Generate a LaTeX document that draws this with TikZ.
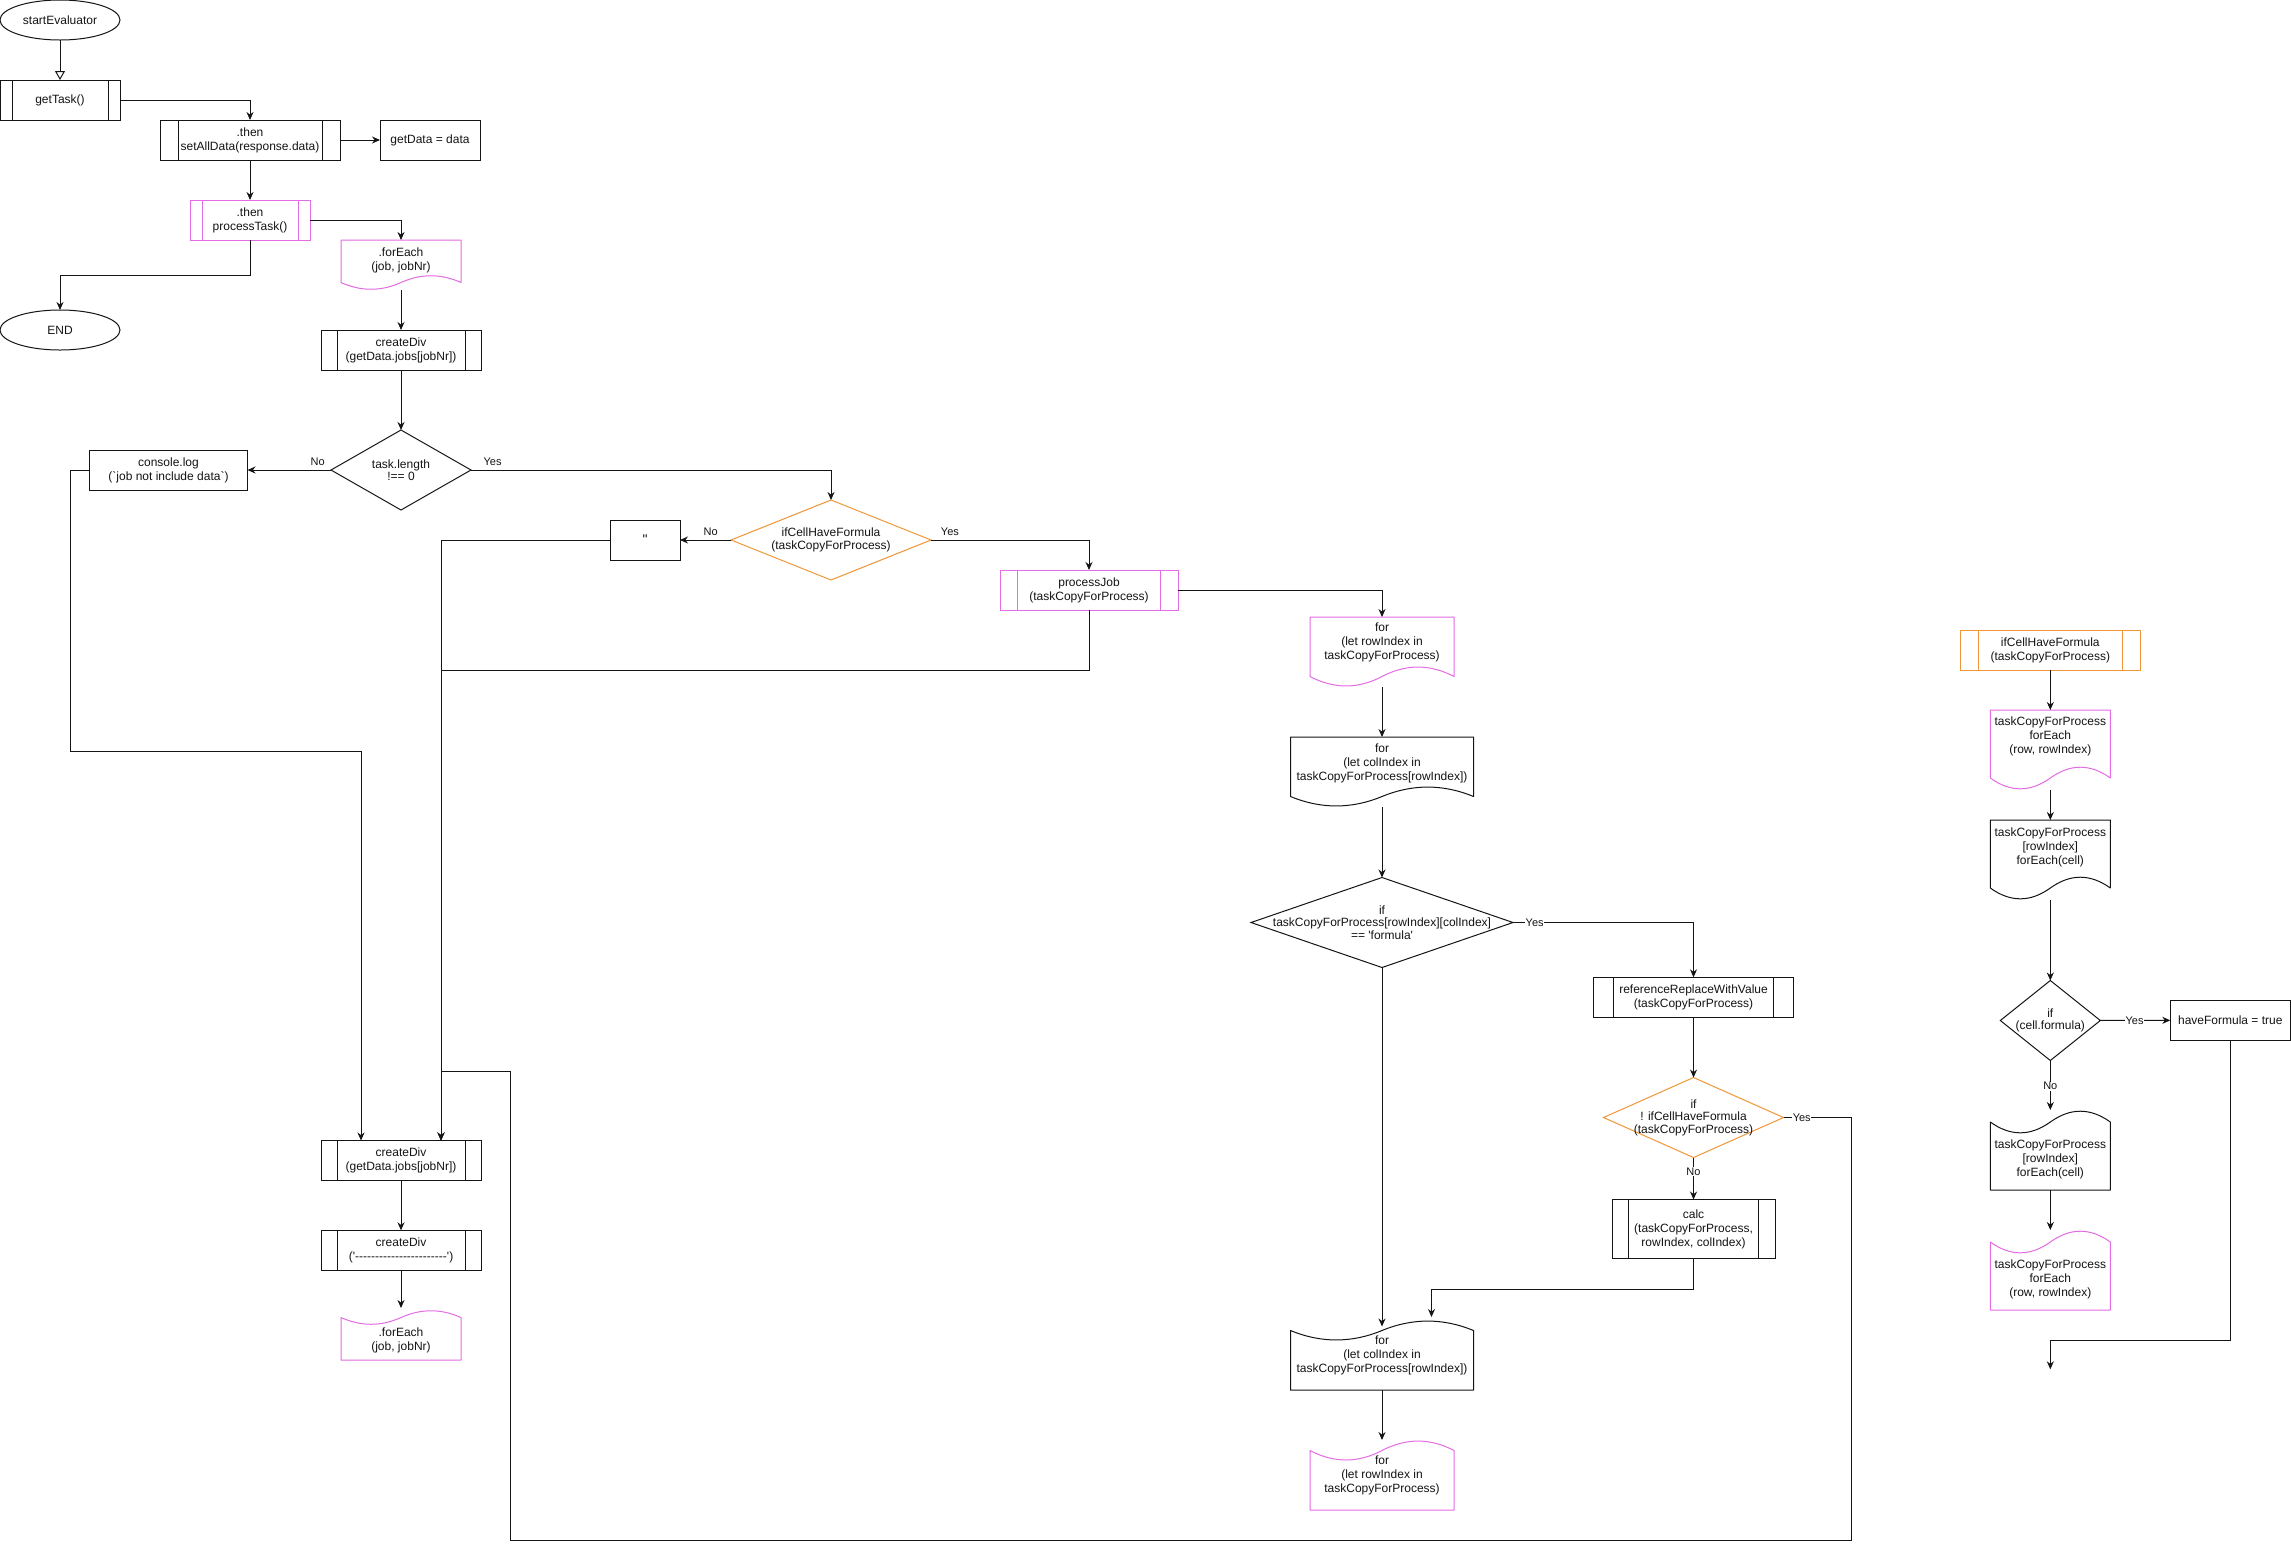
\documentclass[tikz,border=0pt]{standalone}
\usepackage{fontspec}
\newfontfamily\dio{Liberation Sans}
\usetikzlibrary{arrows.meta,shapes.geometric,calc}

\definecolor{magentaline}{RGB}{228,108,228}
\definecolor{orangeline}{RGB}{240,150,55}
\definecolor{inkline}{RGB}{20,20,20}

\tikzset{
  base/.style={font=\dio\fontsize{12}{14}\selectfont, line width=1pt, align=center,
    inner sep=0pt, outer sep=0pt, text=inkline},
  term/.style={base, draw=inkline, ellipse, minimum width=120pt, minimum height=40pt},
  plainbox/.style={base, draw=inkline, rectangle, minimum height=40pt},
  procbox/.style={base, draw=#1, rectangle, minimum height=40pt,
    path picture={
      \draw[#1, line width=1pt]
        ($(path picture bounding box.north west)!0.1!(path picture bounding box.north east)$) --
        ($(path picture bounding box.south west)!0.1!(path picture bounding box.south east)$);
      \draw[#1, line width=1pt]
        ($(path picture bounding box.north west)!0.9!(path picture bounding box.north east)$) --
        ($(path picture bounding box.south west)!0.9!(path picture bounding box.south east)$);
    }},
  procbox/.default=inkline,
  decision/.style={base, draw=#1, diamond},
  decision/.default=inkline,
  dtext/.style={font=\dio\fontsize{12}{12.5}\selectfont, align=center, inner sep=0pt, text=inkline},
  docarea/.style={inner sep=0pt, outer sep=0pt, rectangle},
  doctext/.style={font=\dio\fontsize{12}{14}\selectfont, align=center, inner sep=0pt, text=inkline},
  conn/.style={draw=inkline, line width=1pt, -{Stealth[length=8pt,width=7pt]}},
  openstart/.style={draw=inkline, line width=1pt, -{Triangle[open,length=9pt,width=10pt,fill=white]}},
  lbl/.style={font=\dio\fontsize{11}{13}\selectfont, inner sep=0.5pt, text=inkline},
  lblbg/.style={lbl, fill=white},
}

% document shape, wavy lower edge: name, left, top, width, height, colour, text centre y, text
\newcommand\flowdoc[8]{%
  \node[docarea, minimum width=#4pt, minimum height=#5pt, anchor=north west] (#1) at (#2,#3) {};
  \draw[#6, line width=1pt, line join=round]
    (#2,#3) -- ({#2+#4},#3) -- ({#2+#4},{#3+0.85*#5})
    .. controls ({#2+5*#4/6},{#3+0.67*#5}) and ({#2+2*#4/3},{#3+0.67*#5}) .. ({#2+#4/2},{#3+0.85*#5})
    .. controls ({#2+#4/3},{#3+1.03*#5}) and ({#2+#4/6},{#3+1.03*#5}) .. (#2,{#3+0.85*#5}) -- cycle;
  \node[doctext] (#1-text) at ({#2+#4/2},#7) {#8};
}
% document shape turned over, wavy upper edge
\newcommand\flowdocflip[8]{%
  \node[docarea, minimum width=#4pt, minimum height=#5pt, anchor=north west] (#1) at (#2,#3) {};
  \draw[#6, line width=1pt, line join=round]
    (#2,{#3+#5}) -- ({#2+#4},{#3+#5}) -- ({#2+#4},{#3+0.15*#5})
    .. controls ({#2+5*#4/6},{#3-0.03*#5}) and ({#2+2*#4/3},{#3-0.03*#5}) .. ({#2+#4/2},{#3+0.15*#5})
    .. controls ({#2+#4/3},{#3+0.33*#5}) and ({#2+#4/6},{#3+0.33*#5}) .. (#2,{#3+0.15*#5}) -- cycle;
  \node[doctext] (#1-text) at ({#2+#4/2},#7) {#8};
}

\begin{document}
\begin{tikzpicture}[x=1pt,y=-1pt]
\fill[white] (0,0) rectangle (2291,1551);
\useasboundingbox (0,0) rectangle (2291,1551);

% ---------------- main column: task start ----------------
\node[term] (start) at (60,20) {startEvaluator};
\node[procbox, minimum width=120pt] (gettask) at (60,100) {getTask()};
\node[procbox, minimum width=180pt] (setall) at (250,140) {.then\\setAllData(response.data)};
\node[plainbox, minimum width=100pt] (getdata) at (430,140) {getData = data};
\node[procbox=magentaline, minimum width=120pt] (proctask) at (250,220) {.then\\processTask()};
\node[term] (end) at (60,330) {END};
\flowdoc{foreach}{341}{240}{120}{50}{magentaline}{260.7}{.forEach\\(job, jobNr)}
\node[procbox, minimum width=160pt] (creatediv) at (401,350) {createDiv\\(getData.jobs[jobNr])};
\node[decision, minimum width=140pt, minimum height=80pt,
      label={[dtext]center:{task.length\\!== 0}}] (tasklen) at (401,470) {};
\node[plainbox, minimum width=158pt] (console) at (168.5,470) {console.log\\(`job not include data`)};

% ---------------- job processing ----------------
\node[decision=orangeline, minimum width=200pt, minimum height=80pt,
      label={[dtext]center:{ifCellHaveFormula\\(taskCopyForProcess)}}] (ifcell) at (831,540) {};
\node[plainbox, minimum width=70pt] (quote) at (645,540) {\fontsize{14}{14}\selectfont"};
\node[procbox=magentaline, minimum width=178pt] (procjob) at (1089,590) {processJob\\(taskCopyForProcess)};
\flowdoc{forrow}{1310}{617}{144}{70}{magentaline}{642.7}{for\\(let rowIndex in\\taskCopyForProcess)}
\flowdoc{forcol}{1290.5}{737}{183}{70}{inkline}{763}{for\\(let colIndex in\\taskCopyForProcess[rowIndex])}
\node[decision, minimum width=262pt, minimum height=90pt,
      label={[dtext]center:{if\\taskCopyForProcess[rowIndex][colIndex]\\== 'formula'}}] (isformula) at (1382,922.5) {};
\node[procbox, minimum width=200pt] (refrep) at (1693.5,997.3) {referenceReplaceWithValue\\(taskCopyForProcess)};
\node[decision=orangeline, minimum width=180pt, minimum height=80pt,
      label={[dtext]center:{if\\! ifCellHaveFormula\\(taskCopyForProcess)}}] (notcell) at (1693.5,1117.5) {};
\node[procbox, minimum width=163pt, minimum height=59pt] (calc) at (1693.5,1229) {calc\\(taskCopyForProcess,\\rowIndex, colIndex)};
\flowdocflip{forcolb}{1290.5}{1320}{183}{70}{inkline}{1355.7}{for\\(let colIndex in\\taskCopyForProcess[rowIndex])}
\flowdocflip{forrowb}{1310}{1440}{144}{70}{magentaline}{1475.7}{for\\(let rowIndex in\\taskCopyForProcess)}

% ---------------- output of a job ----------------
\node[procbox, minimum width=160pt] (creatediv2) at (401,1160.5) {createDiv\\(getData.jobs[jobNr])};
\node[procbox, minimum width=160pt] (creatediv3) at (401,1250.3) {createDiv\\('-----------------------')};
\flowdocflip{foreachb}{341}{1310}{120}{50}{magentaline}{1340.8}{.forEach\\(job, jobNr)}

% ---------------- ifCellHaveFormula ----------------
\node[procbox=orangeline, minimum width=180pt] (ifcellbox) at (2050.3,650.3) {ifCellHaveFormula\\(taskCopyForProcess)};
\flowdoc{rowsa}{1990.3}{710}{120}{80}{magentaline}{736}{taskCopyForProcess\\forEach\\(row, rowIndex)}
\flowdoc{cellsa}{1990.3}{820}{120}{80}{inkline}{847}{taskCopyForProcess\\{}[rowIndex]\\forEach(cell)}
\node[decision, minimum width=100pt, minimum height=80pt,
      label={[dtext]center:{if\\(cell.formula)}}] (cellif) at (2050.3,1020.5) {};
\node[plainbox, minimum width=120pt] (haveformula) at (2230.3,1020.2) {haveFormula = true};
\flowdocflip{cellsb}{1990.3}{1110}{120}{80}{inkline}{1159}{taskCopyForProcess\\{}[rowIndex]\\forEach(cell)}
\flowdocflip{rowsb}{1990.3}{1230}{120}{80}{magentaline}{1279}{taskCopyForProcess\\forEach\\(row, rowIndex)}

% bends and free ends
\coordinate (consoleturn) at (70.5,751);
\coordinate (loopcorner) at (1851,1540);
\coordinate (loopback) at (510,1071);
\coordinate (rowsend) at (2050.3,1369.3);

% ---------------- connectors ----------------
\draw[openstart] (start) -- (gettask);
\draw[conn] (gettask.east) -| (setall.north);
\draw[conn] (setall) -- (getdata);
\draw[conn] (setall) -- (proctask);
\draw[conn] (proctask.east) -| (foreach.north);
\draw[conn] (proctask.south) -- ++(0,35) -| (end.north);
\draw[conn] (foreach) -- (creatediv);
\draw[conn] (creatediv) -- (tasklen);
\draw[conn] (tasklen.west) -- node[lbl, pos=0.16, above=3pt] {No} (console.east);
\draw[conn] (tasklen.east) -| node[lbl, pos=0.03, above=3pt] {Yes} (ifcell.north);
\draw[conn] (console.west) -| (consoleturn) -| ([xshift=-40pt]creatediv2.north);

\draw[conn] (ifcell.west) -- node[lbl, pos=0.4, above=3pt] {No} (quote.east);
\draw[conn] (ifcell.east) -| node[lbl, pos=0.06, above=3pt] {Yes} (procjob.north);
\draw[conn] (quote.west) -| ([xshift=40pt]creatediv2.north);
\draw[conn] (procjob.south) -- ++(0,60) -| ([xshift=40pt]creatediv2.north);
\draw[conn] (procjob.east) -| (forrow.north);
\draw[conn] (forrow) -- (forcol);
\draw[conn] (forcol) -- (isformula);
\draw[conn] (isformula.east) -| node[lblbg, pos=0.06] {Yes} (refrep.north);
\draw[conn] (refrep) -- (notcell);
\draw[conn] (notcell) -- node[lblbg, pos=0.33] {No} (calc);
\draw[conn] (notcell.east) -- node[lblbg, pos=0.27] {Yes} (notcell.east -| loopcorner)
  -- (loopcorner) -| (loopback) -| ([xshift=40pt]creatediv2.north);
\draw[conn] (calc.south) -- ++(0,31) -| ([xshift=49.5pt,yshift=3pt]forcolb.north);
\draw[conn] (isformula.south) -- ([yshift=-6.5pt]forcolb.north);
\draw[conn] (forcolb) -- (forrowb);

\draw[conn] (creatediv2) -- (creatediv3);
\draw[conn] (creatediv3.south) -- ([yshift=2pt]foreachb.north);

\draw[conn] (ifcellbox) -- (rowsa);
\draw[conn] (rowsa) -- (cellsa);
\draw[conn] (cellsa) -- (cellif);
\draw[conn] (cellif) -- node[lblbg, pos=0.49] {Yes} (haveformula);
\draw[conn] (cellif) -- node[lblbg, pos=0.52] {No} (cellsb);
\draw[conn] (cellsb) -- (rowsb);
\draw[conn] (haveformula.south) -- ++(0,300) -| (rowsend);
\end{tikzpicture}
\end{document}
